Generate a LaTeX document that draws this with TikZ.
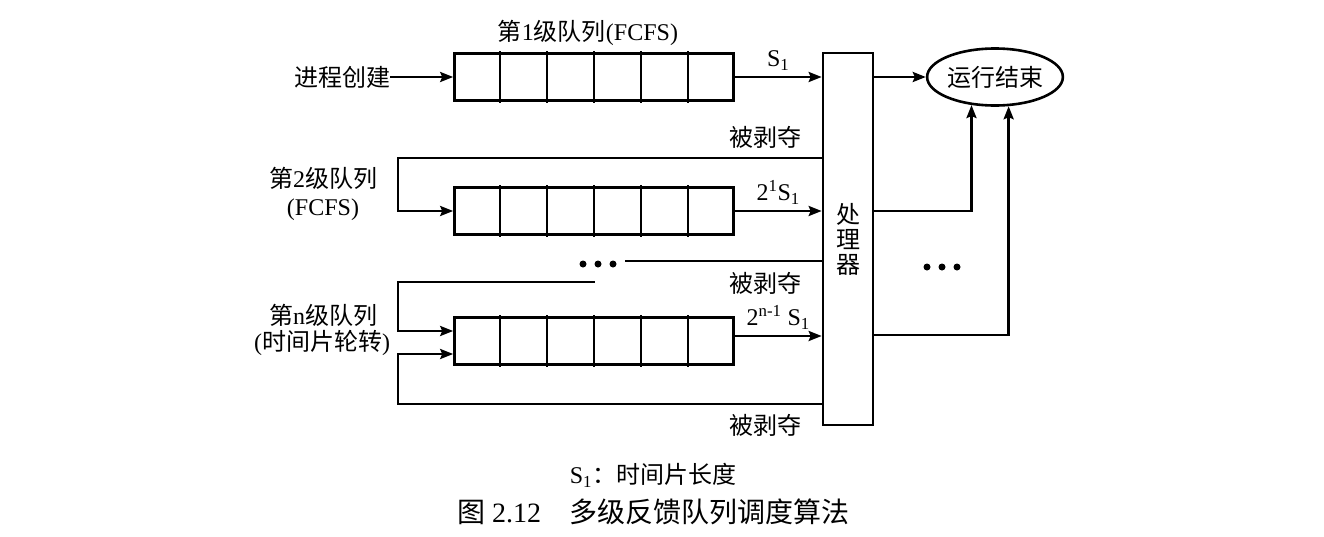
\documentclass[tikz,border=0pt]{standalone}
\usepackage{fontspec}
\setmainfont{Liberation Serif}
\newfontfamily\cjk{Noto Sans CJK SC}
\usetikzlibrary{calc,arrows.meta,shapes.geometric}
\begin{document}
\begin{tikzpicture}[x=1pt,y=-1pt, line width=2.6pt, line cap=rect,
  >={Stealth[length=13pt,width=10pt,inset=2pt]},
  font=\fontsize{24}{26}\selectfont,
  queue/.style={draw, minimum width=279pt, minimum height=47pt, inner sep=0pt},
  lbl/.style={inner sep=0pt},
  dotc/.style={fill=black}]
\useasboundingbox (0,0) rectangle (1324,536);
% queues
\node[queue] (q1) at (594,77) {};
\node[queue] (q2) at (594,211) {};
\node[queue] (qn) at (594,341) {};
\foreach \q in {q1,q2,qn}
  \foreach \i in {1,...,5}
    \draw ($(\q.north west)!\i/6!(\q.north east)$) -- ($(\q.south west)!\i/6!(\q.south east)$);
% processor and end
\node[draw, minimum width=50pt, minimum height=372pt, inner sep=0pt, align=center,
      font=\fontsize{24}{25}\selectfont\cjk] (proc) at (848,239) {处\\理\\器};
\node[draw, ellipse, minimum width=129pt, minimum height=57pt, inner sep=0pt] (fin) at (995,77) {\cjk 运行结束};
% labels
\node[lbl] (create) at (342,77) {\cjk 进程创建};
\node[lbl] (t1lab) at (588,33) {{\cjk 第}1{\cjk 级队列}(FCFS)};
\node[lbl] (t2lab) at (323,178) {{\cjk 第}2{\cjk 级队列}};
\node[lbl] (t2lab2) at (323,210) {(FCFS)};
\node[lbl] (tnlab) at (323,315) {{\cjk 第}n{\cjk 级队列}};
\node[lbl] (tnlab2) at (322,343) {({\cjk 时间片轮转})};
\node[lbl] (pre1) at (765,137) {\cjk 被剥夺};
\node[lbl] (pre2) at (765,283) {\cjk 被剥夺};
\node[lbl] (pre3) at (765,425) {\cjk 被剥夺};
\node[lbl] (note) at (653,475) {S\textsubscript{1}{\cjk ：时间片长度}};
\node[lbl, font=\fontsize{28}{30}\selectfont] (cap) at (653,512) {{\cjk 图} 2.12\quad{\cjk 多级反馈队列调度算法}};
% connectors
\draw[->] (create.east) -- (q1.west);
\draw[->] (q1.east) -- (q1.east -| proc.west) node[midway, above=5pt, inner sep=0pt] {S\textsubscript{1}};
\draw[->] (q1.east -| proc.east) -- (fin.west);
\coordinate (l1) at (398,158);
\draw[->] (l1 -| proc.west) -- (l1) |- (q2.west);
\draw[->] (q2.east) -- (q2.east -| proc.west) node[midway, above=5pt, inner sep=0pt] {2\textsuperscript{1}S\textsubscript{1}};
\coordinate (d1) at (626,261);
\draw (d1 -| proc.west) -- (d1);
\foreach \x in {583,598,613} \fill (\x,264) circle (3.5pt);
\coordinate (t2) at (594,282);
\coordinate (l2) at (398,282);
\draw[->] (t2) -- (l2) |- ($(qn.west)+(0,-10)$);
\coordinate (l3) at (398,404);
\draw[->] (l3 -| proc.west) -- (l3) |- ($(qn.west)+(0,13)$);
\draw[->] ($(qn.east)+(0,-5)$) -- ($(qn.east -| proc.west)+(0,-5)$) node[midway, above=5pt, inner sep=0pt] {2\textsuperscript{n-1} S\textsubscript{1}};
\draw[->] (proc.east |- q2.east) -| (fin.230.6);
\draw[->] ($(proc.east |- qn.east)+(0,-6)$) -| (fin.295);
\foreach \x in {927,942,957} \fill (\x,267) circle (3.5pt);
\end{tikzpicture}
\end{document}
